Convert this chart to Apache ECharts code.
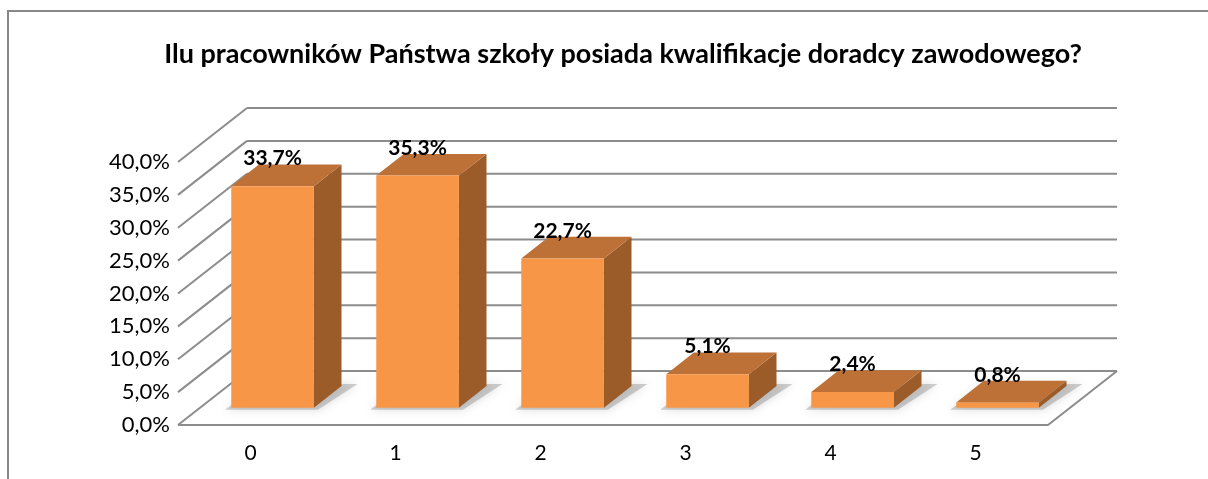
<!DOCTYPE html>
<html>
<head>
<meta charset="utf-8">
<script src="https://cdn.jsdelivr.net/npm/echarts@6/dist/echarts.min.js"></script>
<style>
  html, body { margin: 0; padding: 0; background: #fff; }
  #chart { width: 1208px; height: 479px; }
</style>
</head>
<body>
<div id="chart"></div>
<script>
// dane z wykresu
var title = 'Ilu pracowników Państwa szkoły posiada kwalifikacje doradcy zawodowego?';
var categories = ['0', '1', '2', '3', '4', '5'];
var values = [33.7, 35.3, 22.7, 5.1, 2.4, 0.8];
var yTicks = [0, 5, 10, 15, 20, 25, 30, 35, 40];

// glebokosc 3D (wektor sciany tylnej)
var DX = 69, DY = -54;
var FRONT = 0.32, DEPTH = 0.4, BAR_W = 0.57;
var LINE = '#8c8c8c';

function pct(v) {
  return v.toFixed(1).replace('.', ',') + '%';
}

var myChart = echarts.init(document.getElementById('chart'));

var option = {
  backgroundColor: '#fff',
  animation: false,
  title: {
    text: title,
    left: 618,
    top: 36,
    textAlign: 'center',
    textStyle: { fontFamily: 'Lato', fontWeight: 'bold', fontSize: 27, color: '#000' }
  },
  graphic: [{
    type: 'rect',
    shape: { x: 8, y: 11, width: 1240, height: 500 },
    style: { fill: 'none', stroke: '#888', lineWidth: 2 },
    z: -1
  }],
  grid: { left: 178, right: 160, top: 162, bottom: 54 },
  xAxis: {
    type: 'category',
    data: categories,
    axisLine: { show: false },
    axisTick: { show: false },
    axisLabel: { margin: 18, fontFamily: 'Lato', fontSize: 21, color: '#000' }
  },
  yAxis: {
    type: 'value',
    min: 0,
    max: 40,
    interval: 5,
    axisLine: { show: false },
    axisTick: { show: false },
    splitLine: { show: false },
    axisLabel: {
      margin: 8,
      fontFamily: 'Lato', fontSize: 22, color: '#000',
      formatter: function (v) { return pct(v); }
    }
  },
  series: [{
    // sciany i podloga
    type: 'custom',
    data: yTicks.map(function (t) { return [0, t]; }),
    silent: true,
    z: 1,
    renderItem: function (params, api) {
      var cs = params.coordSys;
      var p = api.coord([0, api.value(1)]);
      var y = p[1];
      var x0 = cs.x, x1 = cs.x + cs.width;
      var children = [{
        type: 'line',
        shape: { x1: x0, y1: y, x2: x0 + DX, y2: y + DY },
        style: { stroke: LINE, lineWidth: 2 }
      }, {
        type: 'line',
        shape: { x1: x0 + DX, y1: y + DY, x2: x1 + DX, y2: y + DY },
        style: { stroke: LINE, lineWidth: 2 }
      }];
      if (api.value(1) === 0) {
        children.push({
          type: 'polyline',
          shape: { points: [[x0, y], [x1, y], [x1 + DX, y + DY]] },
          style: { stroke: LINE, lineWidth: 2, fill: null }
        });
      }
      return { type: 'group', children: children };
    }
  }, {
    // slupki 3D
    type: 'custom',
    data: values.map(function (v, i) { return [i, v]; }),
    z: 2,
    renderItem: function (params, api) {
      var base = api.coord([api.value(0), 0]);
      var top = api.coord([api.value(0), api.value(1)]);
      var bw = api.size([1, 0])[0] * BAR_W;
      var x = base[0] - bw / 2 + DX * FRONT;
      var yb = base[1] + DY * FRONT;
      var yt = top[1] + DY * FRONT;
      var dx = DX * DEPTH, dy = DY * DEPTH;
      return {
        type: 'group',
        children: [{
          type: 'polygon',
          shape: { points: [[x - 6, yb + 2], [x + bw + 4, yb + 2], [x + bw + dx + 16, yb + dy - 2], [x + dx, yb + dy - 2]] },
          style: { fill: 'rgba(120,120,120,0.35)', shadowBlur: 10, shadowColor: 'rgba(90,90,90,0.6)' }
        }, {
          type: 'polygon',
          shape: { points: [[x + bw, yt], [x + bw + dx, yt + dy], [x + bw + dx, yb + dy], [x + bw, yb]] },
          style: { fill: '#9b5c2a' }
        }, {
          type: 'polygon',
          shape: { points: [[x, yt], [x + bw, yt], [x + bw + dx, yt + dy], [x + dx, yt + dy]] },
          style: { fill: '#bd7137' }
        }, {
          type: 'rect',
          shape: { x: x, y: yt, width: bw, height: yb - yt },
          style: { fill: '#f79646' }
        }, {
          type: 'text',
          x: x + bw / 2,
          y: yt + dy - 6,
          style: {
            text: pct(api.value(1)),
            fontFamily: 'Lato', fontWeight: 'bold', fontSize: 21, fill: '#000',
            align: 'center', verticalAlign: 'middle'
          }
        }]
      };
    }
  }]
};

myChart.setOption(option);
</script>
</body>
</html>
